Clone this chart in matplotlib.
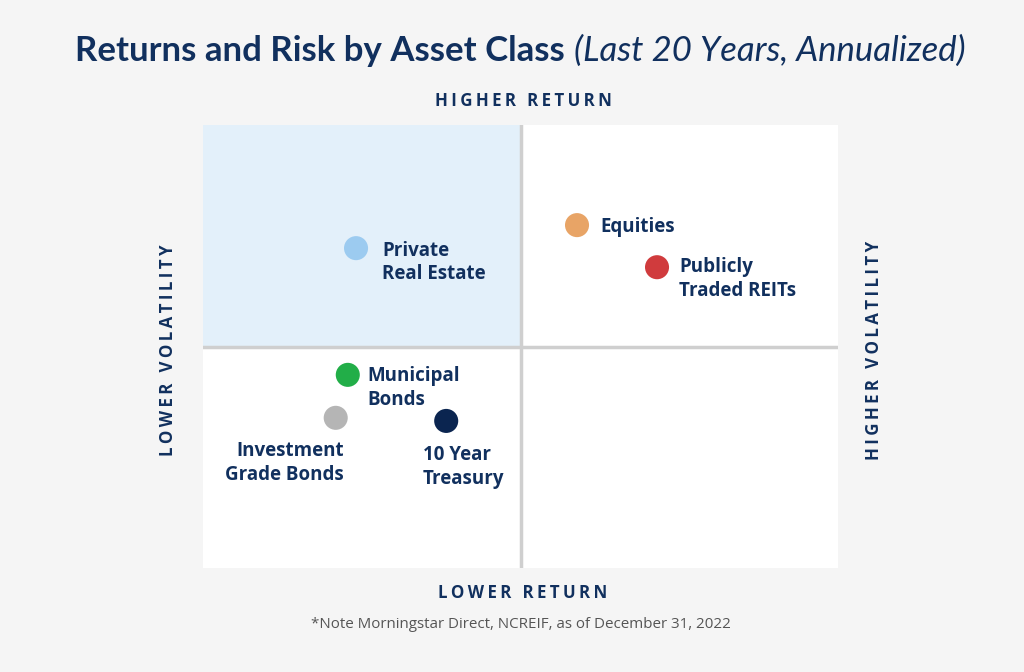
import matplotlib
matplotlib.use('Agg')
import matplotlib.pyplot as plt
from matplotlib.patches import Rectangle

# asset classes, positions on a 0-10 volatility / return grid
assets = ['Private\nReal Estate', 'Equities', 'Publicly\nTraded REITs',
          'Municipal\nBonds', 'Investment\nGrade Bonds', '10 Year\nTreasury']
volatility = [2.41, 5.89, 7.15, 2.28, 2.09, 3.83]
returns = [7.22, 7.74, 6.79, 4.36, 3.39, 3.32]
colors = ['#9ccbf0', '#e8a466', '#d03b3d', '#22ae48', '#b5b5b5', '#0b2550']

# label offsets (points), vertical anchor and alignment
offsets = [(19, -10.5), (17, -1.5), (16, -8.5), (14, -9.5), (6, -17), (-17, -17.5)]
valign = ['center', 'center', 'center', 'center', 'top', 'top']
aligns = ['left', 'left', 'left', 'left', 'right', 'left']

navy = '#11305e'
bg = '#f5f5f5'
plt.rcParams['font.family'] = ['Open Sans', 'DejaVu Sans']

fig = plt.figure(figsize=(10.24, 6.72), dpi=100, facecolor=bg)
ax = fig.add_axes([203/1024, 104/672, 635/1024, 443/672])
ax.set_xlim(0, 10)
ax.set_ylim(0, 10)
ax.set_facecolor('white')
ax.add_patch(Rectangle((0, 5), 5, 5, facecolor='#e3f0fa', edgecolor='none', zorder=0))
ax.axvline(5, color='#cfcfcf', lw=2.5, zorder=1)
ax.axhline(5, color='#cfcfcf', lw=2.5, zorder=1)
for s in ax.spines.values():
    s.set_visible(False)
ax.set_xticks([])
ax.set_yticks([])

ax.scatter(volatility, returns, s=300, c=colors, zorder=3, linewidths=0)
for name, x, y, off, va, ha in zip(assets, volatility, returns, offsets, valign, aligns):
    ax.annotate(name, (x, y), xytext=off, textcoords='offset points',
                ha=ha, va=va, multialignment=ha, fontsize=13.5, fontweight='bold',
                color=navy, linespacing=1.22, zorder=4)

def spaced(t):
    return '\u2009'.join(t)

ty = 1 - 51/672
t1 = fig.text(0, ty, 'Returns and Risk by Asset Class', ha='left', va='center',
              fontsize=25, fontweight='bold', color=navy, family=['Lato'])
t2 = fig.text(0, ty, '(Last 20 Years, Annualized)', ha='left', va='center',
              fontsize=25, fontstyle='italic', color=navy, family=['Lato'])
fig.canvas.draw()
w1 = t1.get_window_extent().width
w2 = t2.get_window_extent().width
gap = 9
x0 = 520 - (w1 + gap + w2) / 2
t1.set_x(x0 / 1024)
t2.set_x((x0 + w1 + gap) / 1024)

lab = dict(fontsize=12.2, fontweight='bold', color=navy, ha='center', va='center')
fig.text(523/1024, 1 - 101/672, spaced('HIGHER RETURN'), **lab)
fig.text(523/1024, 1 - 593/672, spaced('LOWER RETURN'), **lab)
fig.text(168/1024, 1 - 350/672, spaced('LOWER VOLATILITY'), rotation=90, **lab)
fig.text(874/1024, 1 - 350/672, spaced('HIGHER VOLATILITY'), rotation=90, **lab)
fig.text(521/1024, 1 - 624/672, '*Note Morningstar Direct, NCREIF, as of December 31, 2022',
         ha='center', va='center', fontsize=10.9, color='#555555')

fig.savefig('out.png', dpi=100, facecolor=bg)
